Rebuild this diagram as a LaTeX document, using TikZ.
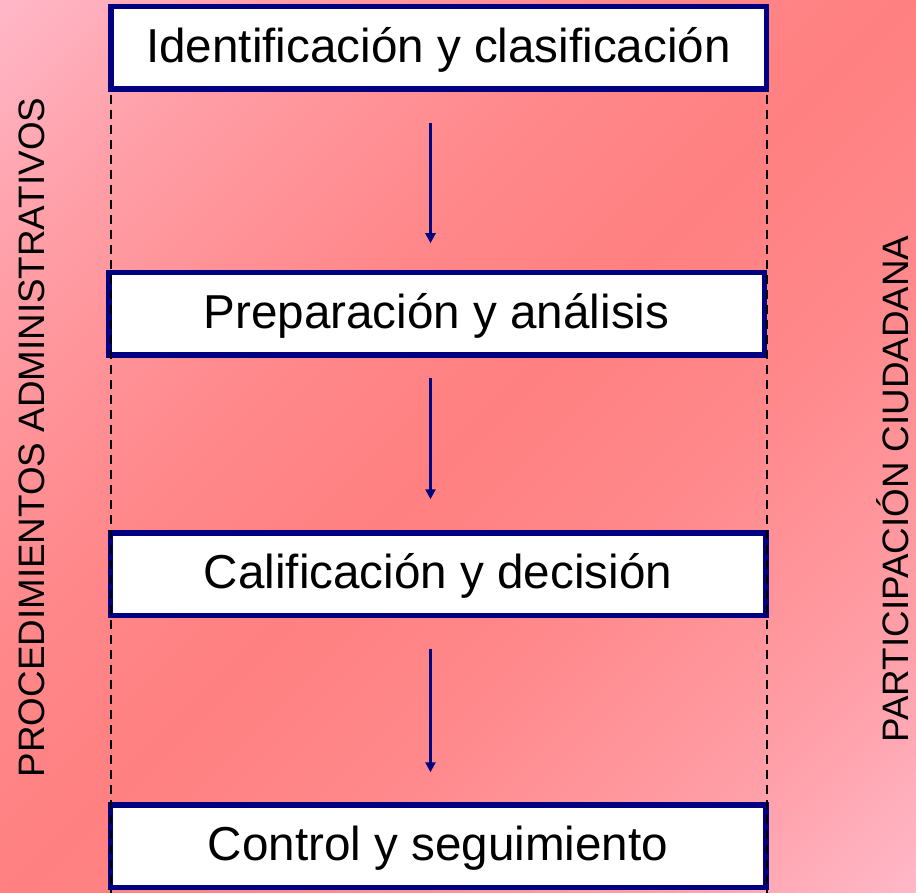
\documentclass[tikz,border=0pt]{standalone}
\usepackage{fontspec}
\setmainfont{Liberation Sans}
\usetikzlibrary{arrows.meta}
\definecolor{bglight}{RGB}{255,184,200}
\definecolor{bgred}{RGB}{255,128,128}
\colorlet{bgmidA}{bglight!55!bgred}
\colorlet{bgmidB}{bglight!15!bgred}
\definecolor{navyb}{RGB}{0,0,128}
\pgfdeclarehorizontalshading{bgdiag}{100bp}{color(0bp)=(bglight); color(25bp)=(bglight); color(32.5bp)=(bgmidA); color(42.5bp)=(bgmidB); color(50bp)=(bgred); color(57.5bp)=(bgmidB); color(67.5bp)=(bgmidA); color(75bp)=(bglight); color(100bp)=(bglight)}
\tikzset{
  stepbox/.style={draw=navyb, line width=5.5pt, fill=white, inner sep=0pt,
    minimum width=655.5pt, minimum height=82.5pt,
    font=\fontsize{47.6}{57}\selectfont, text height=38pt, text depth=9.5pt},
  sidelabel/.style={rotate=90, anchor=base, inner sep=0pt,
    font=\fontsize{36.8}{44}\selectfont},
  guide/.style={black, line width=2pt, dash pattern=on 9pt off 6pt},
  flow/.style={navyb, line width=2.5pt, -{Triangle[width=10pt,length=10pt]}}
}
\begin{document}
\begin{tikzpicture}[x=1pt,y=-1pt]
\useasboundingbox (0,0) rectangle (916,893);
\begin{scope}
  \clip (0,0) rectangle (916,893);
  \begin{scope}[transform canvas={shift={(458,446.5)}, rotate=-45}]
    \shade[shading=bgdiag] (-639.6,-700) rectangle (639.6,700);
  \end{scope}
\end{scope}

\node[stepbox] (b1) at (438.5,48) {Identificación y clasificación};
\node[stepbox] (b2) at (436.5,314) {Preparación y análisis};
\node[stepbox] (b3) at (438,574) {Calificación y decisión};
\node[stepbox] (b4) at (438,846) {Control y seguimiento};

\coordinate (lb) at (111,893);
\coordinate (rb) at (767,893);
\coordinate (ax) at (430.5,0);

\draw[guide] (b1.south west -| lb) ++(0,2.75) -- (lb);
\draw[guide] (b1.south east -| rb) ++(0,2.75) -- (rb);

\draw[flow, shorten <=30.75pt, shorten >=26.75pt] (b1.south -| ax) -- (b2.north -| ax);
\draw[flow, shorten <=19.75pt, shorten >=30.75pt] (b2.south -| ax) -- (b3.north -| ax);
\draw[flow, shorten <=30.75pt, shorten >=29.75pt] (b3.south -| ax) -- (b4.north -| ax);

\node[sidelabel] (lt) at (44,437.5) {PROCEDIMIENTOS ADMINISTRATIVOS};
\node[sidelabel] (rt) at (908,489) {PARTICIPACIÓN CIUDADANA};
\end{tikzpicture}
\end{document}
